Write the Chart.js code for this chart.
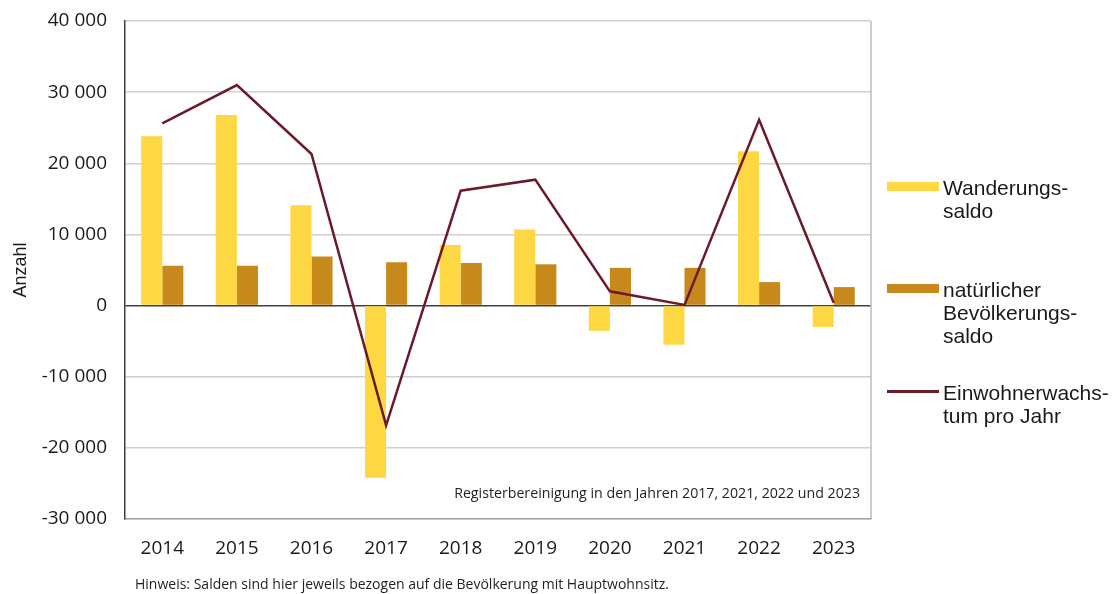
<!DOCTYPE html>
<html lang="de">
<head>
    <meta charset="UTF-8">
    <title>Bevölkerungsentwicklung</title>
    <script src="https://cdn.jsdelivr.net/npm/chart.js"></script>
    <style>
      body{
        margin: 0;
        background: #ffffff;
      }
      .wrap{
        position: relative;
        width: 1117px;
        height: 594px;
      }
      .legend-item{
        position: absolute;
        left: 887px;
        font-family: "Liberation Sans", Arial, sans-serif;
        font-size: 21px;
        line-height: 23px;
        color: #1a1a1a;
      }
      .legend-item .swatch{
        position: absolute;
        left: 0;
        width: 52px;
      }
      .legend-item .txt{
        position: absolute;
        left: 56px;
        top: 0;
        white-space: nowrap;
      }
      .note{
        position: absolute;
        font-family: "Open Sans", sans-serif;
        color: #1f1f1f;
        white-space: nowrap;
        line-height: 18px;
      }
    </style>
</head>
<body>
  <div class="wrap">
    <canvas id="bevChart" width="1117" height="594"></canvas>

    <!-- Legend -->
    <div class="legend-item" style="top: 176px;">
      <div class="swatch" style="top: 6px; height: 9px; background: #FDD843;"></div>
      <div class="txt">Wanderungs-<br>saldo</div>
    </div>
    <div class="legend-item" style="top: 278px;">
      <div class="swatch" style="top: 6px; height: 9px; background: #C8891C;"></div>
      <div class="txt">natürlicher<br>Bevölkerungs-<br>saldo</div>
    </div>
    <div class="legend-item" style="top: 381px;">
      <div class="swatch" style="top: 9px; height: 2.5px; background: #6B1A2A;"></div>
      <div class="txt">Einwohnerwachs-<br>tum pro Jahr</div>
    </div>

    <div class="note" style="right: 257px; top: 484px; font-size: 14.2px;">Registerbereinigung in den Jahren 2017, 2021, 2022 und 2023</div>
    <div class="note" style="left: 135px; top: 575px; font-size: 14px;">Hinweis: Salden sind hier jeweils bezogen auf die Bevölkerung mit Hauptwohnsitz.</div>
  </div>

  <script>
    // values
    const years = ['2014', '2015', '2016', '2017', '2018', '2019', '2020', '2021', '2022', '2023'];
    const wanderungssaldo = [23800, 26800, 14100, -24200, 8500, 10700, -3550, -5500, 21700, -3000];
    const natuerlicherSaldo = [5600, 5600, 6900, 6100, 6000, 5800, 5300, 5300, 3300, 2600];
    const einwohnerwachstum = [25600, 31000, 21300, -16850, 16150, 17700, 2000, 100, 26100, 400];
    const yTicks = [-30000, -20000, -10000, 0, 10000, 20000, 30000, 40000];

    function fmt(v){
      const s = Math.abs(v).toString().replace(/\B(?=(\d{3})+(?!\d))/g, ' ');
      return (v < 0 ? '-' : '') + s;
    }

    // right border of the plot area
    const frameLines = {
      id: 'frameLines',
      afterDatasetsDraw(chart){
        const {ctx, chartArea} = chart;
        ctx.save();
        ctx.strokeStyle = '#bdbdbd';
        ctx.lineWidth = 1.5;
        ctx.beginPath();
        ctx.moveTo(chartArea.right, chartArea.top);
        ctx.lineTo(chartArea.right, chartArea.bottom);
        ctx.stroke();
        ctx.restore();
      }
    };

    const ctx = document.getElementById('bevChart').getContext('2d');
    const bevChart = new Chart(ctx, {
      data: {
        labels: years,
        datasets: [
          {
            type: 'line',
            label: 'Einwohnerwachstum pro Jahr',
            data: einwohnerwachstum,
            borderColor: '#6B1A2A',
            borderWidth: 2.5,
            pointRadius: 0,
            tension: 0,
            order: 0
          },
          {
            type: 'bar',
            label: 'Wanderungssaldo',
            data: wanderungssaldo,
            backgroundColor: '#FDD843',
            order: 1
          },
          {
            type: 'bar',
            label: 'natürlicher Bevölkerungssaldo',
            data: natuerlicherSaldo,
            backgroundColor: '#C8891C',
            order: 1
          }
        ]
      },
      options: {
        responsive: false,
        animation: false,
        categoryPercentage: 0.565,
        barPercentage: 1.0,
        layout: { padding: { top: 21, right: 246, left: 0, bottom: 0 } },
        plugins: {
          legend: { display: false },
          tooltip: { enabled: false }
        },
        scales: {
          x: {
            grid: { display: false },
            border: { color: '#a6a6a6', width: 1.5 },
            ticks: {
              color: '#1a1a1a',
              font: { family: 'Open Sans', size: 19 },
              padding: 10
            },
            afterFit: scale => { scale.height = 75; }
          },
          y: {
            min: -30000,
            max: 40000,
            afterBuildTicks: scale => { scale.ticks = yTicks.map(v => ({ value: v })); },
            grid: {
              drawTicks: false,
              lineWidth: 1.5,
              color: c => c.tick && c.tick.value === 0 ? '#404040' : '#cfcfcf'
            },
            border: { color: '#404040', width: 1.5 },
            ticks: {
              color: '#1a1a1a',
              font: { family: 'Open Sans', size: 19 },
              padding: 18,
              callback: v => fmt(v)
            },
            title: {
              display: true,
              text: 'Anzahl',
              color: '#1a1a1a',
              font: { family: 'Liberation Sans', size: 18 },
              padding: { top: 10, bottom: 0 }
            },
            afterFit: scale => {
              scale.width = 125;
              // no extra room for the top label, the plot starts right at the padding
              scale.paddingTop = 0;
              scale.paddingBottom = 0;
            }
          }
        }
      },
      plugins: [frameLines]
    });
  </script>
</body>
</html>
